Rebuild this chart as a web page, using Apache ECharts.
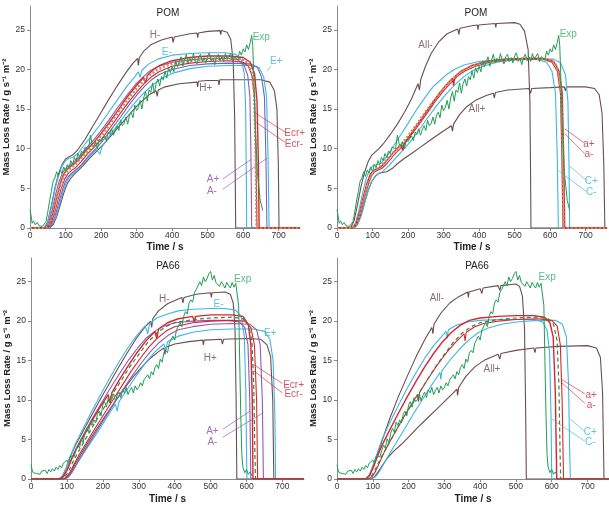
<!DOCTYPE html>
<html>
<head>
<meta charset="utf-8">
<script src="https://cdn.jsdelivr.net/npm/echarts@6/dist/echarts.min.js"></script>
<style>
  html, body { margin: 0; padding: 0; background: #fff; }
  #chart { width: 609px; height: 505px; }
</style>
</head>
<body>
<div id="chart"></div>
<script>
// axes
const X_MAX = 760
const Y_MAX = 28
const xTicks = [0, 100, 200, 300, 400, 500, 600, 700]
const yTicks = [0, 5, 10, 15, 20, 25]
const panelTitles = ['POM', 'POM', 'PA66', 'PA66']

// experiment, POM
const expPOM = [[0,2.3],[3,1.6],[6,0.6],[10,0.9],[15,0.4],[20,0.7],[25,0.3],[30,0.5],[35,0.2],[40,0.4],[45,0.8],[50,2.0],[55,3.4],[60,4.6],[65,5.9],[70,6.3],[75,7.1],[80,6.5],[85,7.3],[90,6.9],[95,7.7],[100,7.1],[105,8.0],[110,7.6],[115,8.5],[120,8.0],[125,8.9],[130,8.5],[135,9.4],[140,8.9],[145,9.7],[150,9.4],[155,10.2],[160,10.4],[165,10.0],[170,11.7],[175,10.6],[180,10.3],[185,10.9],[190,10.0],[195,11.2],[200,10.9],[205,11.3],[210,11.6],[215,11.0],[220,12.1],[225,11.8],[230,12.5],[235,11.7],[240,12.4],[245,12.9],[250,12.3],[255,13.6],[260,12.9],[265,13.2],[270,14.0],[275,13.1],[280,14.2],[285,14.6],[290,13.9],[295,15.5],[300,14.8],[305,15.2],[310,16.1],[315,15.0],[320,16.4],[325,17.2],[330,16.0],[335,17.4],[340,17.1],[345,18.3],[350,17.0],[355,18.2],[360,18.8],[365,17.9],[370,19.1],[375,18.7],[380,19.8],[385,18.9],[390,20.2],[395,19.6],[400,20.4],[405,19.7],[410,21.1],[415,20.3],[420,20.9],[425,21.6],[430,20.4],[435,21.2],[440,21.9],[445,20.8],[450,21.4],[455,21.0],[460,22.0],[465,21.2],[470,20.7],[475,21.6],[480,21.9],[485,21.0],[490,21.5],[495,20.8],[500,21.7],[505,22.1],[510,21.0],[515,21.4],[520,20.6],[525,21.5],[530,21.9],[535,21.1],[540,21.6],[545,21.0],[550,22.0],[555,21.3],[560,21.5],[565,22.0],[570,21.0],[575,21.6],[580,21.8],[585,21.2],[590,22.3],[595,21.8],[600,22.6],[605,22.2],[610,23.1],[615,22.5],[620,23.4],[624,24.3],[627,23.0],[630,19.0],[634,13.0],[640,7.0],[648,3.5],[655,2.2]]

// experiment, PA66
const expPA66 = [[0,1.8],[3,1.2],[6,0.8],[10,1.0],[15,0.7],[20,0.9],[25,0.6],[30,1.0],[35,0.8],[40,1.1],[45,0.7],[50,1.2],[55,0.9],[60,1.3],[65,1.0],[70,1.5],[75,1.2],[80,1.7],[85,1.4],[90,2.0],[95,1.8],[100,2.4],[105,2.0],[110,2.9],[115,3.1],[120,2.8],[125,3.6],[130,4.3],[135,3.9],[140,5.1],[145,4.6],[150,5.8],[155,6.4],[160,5.9],[165,7.2],[170,6.8],[175,7.5],[180,7.1],[185,8.2],[190,8.6],[195,8.0],[200,9.4],[205,9.8],[210,9.1],[215,10.3],[220,9.8],[225,10.1],[230,10.8],[235,9.9],[240,10.6],[245,11.0],[250,10.3],[255,11.3],[260,10.9],[265,11.6],[270,10.7],[275,11.2],[280,11.6],[285,10.9],[290,11.8],[295,11.3],[300,11.6],[305,12.2],[310,11.8],[315,12.6],[320,12.4],[325,13.2],[330,12.7],[335,13.6],[340,13.2],[345,14.1],[350,14.5],[355,14.0],[360,15.2],[365,14.8],[370,16.0],[375,16.3],[380,16.0],[385,17.2],[390,17.0],[395,18.1],[400,17.6],[405,18.9],[410,18.7],[415,19.8],[420,19.3],[425,20.6],[430,21.2],[435,20.9],[440,22.3],[445,22.7],[450,22.4],[455,23.6],[460,24.0],[465,23.8],[470,25.0],[475,24.5],[480,25.6],[485,25.0],[490,25.4],[495,26.0],[500,26.3],[505,25.2],[510,25.8],[515,24.9],[520,25.1],[525,24.4],[530,25.0],[535,24.6],[540,24.2],[545,24.9],[550,24.5],[555,24.2],[560,24.9],[565,24.3],[570,24.8],[575,24.6],[578,22.0],[581,15.0],[584,8.0],[587,3.0],[590,1.5],[595,0.8],[600,1.2],[605,0.6],[610,0.9],[615,0.4]]

// reference simulations
const basePOM = [[0,0],[45,0],[55,0.5],[65,1.8],[75,3.6],[85,5.3],[95,6.5],[105,7.2],[115,7.6],[125,7.9],[140,8.6],[160,9.6],[180,10.5],[200,11.6],[225,13.1],[250,14.7],[275,16.2],[300,17.6],[320,18.6],[340,19.4],[360,20.0],[380,20.4],[400,20.7],[450,21.1],[500,21.3],[560,21.4],[600,21.2],[615,20.7],[625,19.5],[631,17],[635,10],[637,3],[638,0],[760,0]]
const basePA66 = [[0,0],[85,0],[95,0.3],[105,1.0],[115,2.0],[130,3.3],[150,4.9],[175,6.9],[200,8.8],[225,10.6],[250,12.4],[275,14.2],[300,15.8],[325,17.3],[350,18.5],[375,19.3],[400,19.8],[450,20.2],[500,20.4],[560,20.5],[590,20.3],[605,19.6],[615,17.5],[620,12],[623,4],[625,0],[760,0]]

// POM, single parameters
const pomHminus = [[0,0],[40,0],[50,0.8],[60,2.8],[70,5.0],[80,6.8],[90,8.0],[100,8.7],[110,9.0],[120,9.2],[135,9.9],[155,11.2],[175,12.7],[195,14.2],[220,16.1],[245,17.9],[270,19.6],[290,20.8],[303,21.4],[305,20.5],[308,21.5],[320,22.3],[340,23.1],[370,23.7],[400,24.1],[403,23.4],[406,24.1],[450,24.5],[470,24.6],[472,24.0],[474,24.6],[500,24.8],[535,24.9],[537,24.4],[539,24.9],[555,24.7],[565,23.8],[572,21],[576,14],[578,5],[579,0],[760,0]]
const pomHplus = [[0,0],[55,0],[65,0.4],[75,1.4],[85,2.9],[95,4.4],[105,5.6],[115,6.3],[125,6.8],[135,7.2],[150,7.9],[170,8.9],[190,9.8],[210,10.7],[235,12.0],[260,13.3],[285,14.6],[310,15.8],[335,16.8],[355,17.3],[358,16.6],[361,17.4],[380,17.8],[420,18.2],[470,18.4],[472,17.8],[474,18.5],[500,18.6],[530,18.6],[532,18.0],[534,18.7],[600,18.7],[650,18.7],[675,18.4],[688,17.3],[695,15],[699,8],[701,0],[760,0]]
const pomEminus = [[0,0],[40,0],[50,0.7],[60,2.6],[70,4.8],[80,6.6],[90,7.8],[100,8.5],[110,8.8],[120,8.9],[135,9.4],[155,10.6],[175,11.7],[195,12.9],[220,14.5],[245,16.1],[270,17.7],[295,19.1],[305,19.7],[310,19.0],[315,19.9],[335,20.7],[360,21.3],[400,21.8],[450,22.0],[500,22.1],[550,22.1],[580,21.9],[595,21.2],[603,19.5],[607,15],[609,6],[610,0],[760,0]]
const pomEplus = [[0,0],[52,0],[62,0.4],[72,1.3],[82,2.8],[92,4.4],[102,5.7],[112,6.5],[122,6.9],[132,7.3],[147,8.0],[167,9.0],[187,9.9],[197,9.3],[202,10.2],[222,11.5],[247,13.0],[272,14.5],[297,15.9],[322,17.1],[347,18.1],[372,18.9],[400,19.5],[450,20.1],[500,20.4],[560,20.5],[620,20.5],[645,20.2],[658,19.0],[666,16.5],[670,9],[673,0],[760,0]]
const pomEcrPlus = [[0,0],[45,0],[55,0.5],[65,2.0],[75,3.9],[85,5.6],[95,6.8],[105,7.4],[115,7.8],[125,8.1],[140,8.8],[160,9.9],[180,10.8],[200,11.9],[225,13.4],[250,15.0],[275,16.6],[300,18.0],[320,19.0],[325,18.3],[330,19.2],[345,19.9],[365,20.5],[400,21.1],[450,21.5],[500,21.7],[560,21.7],[600,21.5],[620,20.9],[632,19.5],[639,16],[643,8],[645,0],[760,0]]
const pomEcrMinus = [[0,0],[48,0],[58,0.5],[68,1.7],[78,3.4],[88,5.0],[98,6.2],[108,6.9],[118,7.3],[128,7.6],[143,8.3],[163,9.4],[183,10.3],[203,11.3],[228,12.8],[253,14.4],[278,15.9],[303,17.3],[323,18.3],[343,19.1],[363,19.7],[400,20.4],[450,20.8],[500,21.0],[560,21.1],[600,20.9],[615,20.4],[625,19.2],[632,16.5],[636,9],[639,0],[760,0]]
const pomAplus = [[0,0],[42,0],[52,0.6],[62,2.2],[72,4.2],[82,5.9],[92,7.0],[102,7.6],[112,7.9],[122,8.2],[137,8.9],[157,10.0],[177,11.0],[197,12.1],[222,13.6],[247,15.2],[272,16.7],[297,18.1],[317,19.0],[337,19.8],[357,20.3],[400,20.9],[450,21.2],[500,21.4],[550,21.4],[585,21.2],[602,20.6],[613,19.2],[619,16.5],[622,9],[624,0],[760,0]]
const pomAminus = [[0,0],[50,0],[60,0.4],[70,1.4],[80,3.0],[90,4.6],[100,5.9],[110,6.6],[120,7.0],[130,7.4],[145,8.0],[165,9.1],[185,10.0],[205,11.0],[230,12.5],[255,14.0],[280,15.6],[305,17.0],[325,18.0],[345,18.8],[365,19.4],[400,20.0],[450,20.5],[500,20.7],[560,20.8],[620,20.7],[640,20.3],[652,19.0],[660,16.5],[664,9],[667,0],[760,0]]

// POM, all / a / C
const pomAllMinus = [[0,0],[38,0],[48,0.9],[58,3.0],[68,5.3],[78,7.1],[88,8.4],[98,9.2],[108,9.6],[118,10.0],[130,10.6],[150,11.8],[170,13.1],[190,14.6],[210,16.3],[228,18.2],[232,17.4],[236,18.8],[250,20.5],[265,22.0],[285,23.4],[310,24.5],[340,25.1],[343,24.4],[346,25.2],[380,25.5],[395,25.6],[397,25.0],[399,25.6],[445,25.8],[447,25.3],[449,25.8],[500,25.9],[515,25.7],[528,24.8],[538,22.5],[543,16],[545,6],[546,0],[760,0]]
const pomAllPlus = [[0,0],[48,0],[58,0.5],[68,1.7],[78,3.3],[88,4.8],[98,5.9],[108,6.5],[118,6.9],[128,7.0],[140,7.1],[155,7.5],[170,8.1],[190,8.8],[210,9.4],[235,10.2],[260,11.0],[285,11.8],[305,12.4],[322,12.9],[325,12.2],[328,13.1],[345,14.3],[365,15.3],[390,16.1],[420,16.7],[440,17.0],[443,16.4],[446,17.1],[480,17.4],[540,17.6],[545,17.0],[548,17.6],[600,17.7],[640,17.8],[643,17.3],[646,17.8],[700,17.8],[725,17.6],[738,16.8],[746,14.5],[751,8],[754,0],[760,0]]
const pomAPlus2 = [[0,0],[44,0],[54,0.6],[64,2.0],[74,3.9],[84,5.6],[94,6.8],[104,7.3],[114,7.5],[124,7.7],[140,8.5],[160,9.6],[180,10.5],[185,9.8],[190,10.7],[210,12.0],[235,13.6],[260,15.2],[285,16.8],[305,17.9],[325,18.9],[328,18.0],[332,19.1],[350,19.8],[380,20.5],[420,21.0],[470,21.3],[520,21.4],[580,21.4],[610,21.0],[625,19.8],[634,17],[638,9],[641,0],[760,0]]
const pomAMinus2 = [[0,0],[46,0],[56,0.5],[66,1.8],[76,3.6],[86,5.2],[96,6.5],[106,7.1],[116,7.3],[126,7.5],[142,8.2],[162,9.3],[182,10.2],[202,11.3],[227,12.8],[252,14.4],[277,16.0],[300,17.3],[320,18.3],[340,19.2],[360,19.8],[390,20.4],[430,20.9],[480,21.2],[530,21.3],[580,21.3],[605,20.9],[620,19.8],[629,17],[633,9],[636,0],[760,0]]
const pomCminus = [[0,0],[42,0],[52,0.6],[62,2.3],[72,4.4],[82,6.2],[92,7.4],[102,7.9],[112,8.0],[122,8.1],[140,9.0],[160,10.4],[180,11.8],[200,13.2],[225,15.0],[250,16.6],[270,17.8],[290,18.6],[310,19.4],[330,20.0],[360,20.6],[400,21.0],[450,21.2],[500,21.3],[560,21.3],[590,20.9],[605,19.8],[615,17],[620,9],[623,0],[760,0]]
const pomCplus = [[0,0],[48,0],[58,0.4],[68,1.5],[78,3.1],[88,4.7],[98,5.9],[108,6.6],[118,6.9],[128,7.1],[145,7.8],[165,8.8],[185,9.8],[205,10.8],[230,12.3],[255,13.9],[280,15.4],[305,16.8],[330,18.0],[355,19.0],[380,19.8],[410,20.4],[450,20.9],[500,21.2],[560,21.3],[610,21.3],[630,20.8],[643,19.3],[650,16],[653,8],[655,0],[760,0]]

// PA66, single parameters
const paHminus = [[0,0],[78,0],[88,0.4],[98,1.4],[108,2.7],[123,4.2],[143,5.9],[168,8.0],[193,10.1],[218,12.1],[243,14.1],[268,16.0],[293,17.8],[318,19.3],[333,20.0],[336,19.2],[339,20.3],[355,21.3],[380,22.2],[410,22.8],[420,23.0],[423,22.3],[426,23.0],[460,23.4],[500,23.6],[502,23.0],[504,23.6],[540,23.7],[555,23.4],[563,22.3],[568,19],[571,10],[573,0],[760,0]]
const paHplus = [[0,0],[92,0],[102,0.3],[112,0.9],[122,1.8],[137,3.0],[157,4.5],[182,6.3],[207,8.0],[232,9.7],[257,11.3],[282,12.8],[307,14.1],[332,15.3],[357,16.2],[370,16.6],[373,15.8],[376,16.7],[400,17.1],[440,17.4],[478,17.6],[480,17.0],[482,17.6],[530,17.7],[533,17.1],[536,17.7],[600,17.8],[640,17.7],[657,17.0],[667,15.5],[673,10],[676,0],[760,0]]
const paEminus = [[0,0],[78,0],[88,0.4],[98,1.4],[108,2.7],[123,4.4],[143,6.2],[168,8.5],[193,10.6],[218,12.7],[243,14.7],[268,16.5],[293,18.1],[318,19.4],[325,18.4],[330,19.7],[350,20.4],[380,20.9],[410,21.3],[450,21.5],[500,21.6],[540,21.6],[570,21.4],[585,20.6],[594,18],[598,11],[601,0],[760,0]]
const paEplus = [[0,0],[95,0],[105,0.3],[115,0.9],[125,1.7],[140,2.8],[160,4.2],[185,5.9],[210,7.7],[235,9.5],[240,8.6],[245,9.8],[270,11.5],[295,13.2],[320,14.8],[345,16.1],[370,17.1],[375,16.3],[380,17.4],[410,18.1],[450,18.6],[500,18.9],[560,19.0],[620,19.0],[650,18.7],[665,17.7],[674,15],[679,8],[681,0],[760,0]]
const paEcrPlus = [[0,0],[80,0],[90,0.3],[100,1.1],[110,2.2],[125,3.7],[145,5.3],[170,7.4],[195,9.3],[215,10.7],[220,9.6],[225,10.9],[245,12.5],[270,14.3],[295,16.0],[320,17.5],[345,18.7],[350,17.8],[355,19.0],[380,19.8],[410,20.3],[450,20.6],[455,19.9],[458,20.6],[500,20.8],[560,20.8],[590,20.6],[605,19.6],[612,17],[616,10],[618,0],[760,0]]
const paEcrMinus = [[0,0],[88,0],[98,0.2],[108,0.8],[118,1.7],[133,3.0],[153,4.5],[178,6.4],[203,8.2],[228,10.0],[253,11.8],[278,13.6],[303,15.2],[328,16.7],[353,17.9],[378,18.8],[400,19.3],[450,19.8],[500,20.0],[560,20.1],[595,20.0],[612,19.2],[622,17],[628,10],[631,0],[760,0]]
const paAplus = [[0,0],[82,0],[92,0.4],[102,1.3],[112,2.5],[127,4.0],[147,5.7],[172,7.8],[197,9.7],[222,11.6],[247,13.4],[272,15.1],[297,16.6],[322,17.9],[347,18.8],[372,19.4],[400,19.8],[450,20.0],[500,20.1],[550,20.1],[580,19.9],[595,19.2],[604,17],[609,10],[612,0],[760,0]]
const paAminus = [[0,0],[92,0],[102,0.2],[112,0.7],[122,1.5],[137,2.7],[157,4.2],[182,6.0],[207,7.8],[232,9.6],[257,11.4],[282,13.1],[307,14.7],[332,16.1],[357,17.3],[382,18.2],[410,18.9],[450,19.3],[500,19.6],[560,19.7],[610,19.6],[628,18.9],[638,17],[644,10],[647,0],[760,0]]

// PA66, all / a / C
const paAllMinus = [[0,0],[82,0],[92,0.5],[102,1.6],[112,3.0],[127,5.0],[147,7.6],[172,10.5],[197,13.1],[222,15.6],[247,17.8],[265,19.2],[268,18.4],[271,19.6],[290,21.0],[315,22.3],[340,23.1],[365,23.7],[367,23.0],[369,23.7],[400,24.1],[405,23.5],[408,24.2],[450,24.5],[455,23.9],[458,24.5],[500,24.7],[510,24.4],[518,23.2],[524,19],[527,9],[529,0],[760,0]]
const paAllPlus = [[0,0],[95,0],[105,0.3],[115,0.9],[125,1.6],[140,2.6],[160,3.6],[180,4.4],[200,5.3],[225,6.5],[250,7.6],[275,8.7],[300,9.8],[325,10.9],[335,11.4],[337,10.6],[340,11.6],[360,13.0],[385,14.2],[410,15.0],[450,15.8],[455,15.2],[458,15.9],[500,16.3],[550,16.6],[553,16.0],[556,16.6],[620,16.8],[700,16.9],[725,16.6],[736,15.4],[742,11],[745,3],[746,0],[760,0]]
const paAPlus2 = [[0,0],[80,0],[90,0.4],[100,1.3],[110,2.5],[125,4.2],[145,6.0],[170,8.2],[195,10.3],[220,12.3],[245,14.2],[270,15.9],[295,17.4],[320,18.6],[345,19.5],[370,20.1],[400,20.4],[450,20.6],[500,20.7],[550,20.7],[580,20.5],[595,19.8],[604,18],[610,11],[614,0],[760,0]]
const paAMinus2 = [[0,0],[88,0],[98,0.3],[108,1.0],[118,2.0],[133,3.5],[153,5.2],[178,7.2],[203,9.1],[225,10.7],[228,9.8],[231,11.0],[256,12.8],[281,14.5],[306,16.0],[331,17.3],[355,18.4],[358,17.5],[361,18.6],[385,19.3],[410,19.7],[450,20.0],[500,20.2],[560,20.3],[600,20.1],[615,19.4],[624,17],[629,10],[633,0],[760,0]]
const paCminus = [[0,0],[80,0],[90,0.5],[100,1.7],[110,3.0],[125,4.9],[145,6.9],[170,9.2],[195,11.4],[220,13.4],[245,15.3],[270,16.9],[295,18.2],[305,18.7],[308,17.8],[311,18.9],[335,19.5],[365,19.9],[400,20.1],[450,20.2],[500,20.2],[550,20.2],[575,19.9],[587,18.8],[594,16],[598,8],[600,0],[760,0]]
const paCplus = [[0,0],[98,0],[108,0.3],[118,0.9],[128,1.7],[143,2.9],[163,4.4],[188,6.3],[213,8.2],[238,10.0],[263,11.8],[288,13.5],[290,12.6],[293,13.7],[318,15.2],[343,16.5],[368,17.6],[393,18.5],[420,19.1],[460,19.6],[500,19.9],[560,20.1],[610,20.1],[630,19.6],[641,18],[647,12],[650,4],[652,0],[760,0]]

// curve labels [text, time, rate]
const labels1 = [['H-',352,24.3],['E-',385,22.2],['Exp',651,24.1],['E+',693,21.0],['H+',495,17.6],['Ecr+',745,12.0],['Ecr-',743,10.6],['A+',515,6.1],['A-',512,4.6]]
const labels2 = [['All-',249,23.1],['All+',394,15.0],['Exp',651,24.4],['a+',709,10.6],['a-',709,9.3],['C+',716,5.9],['C-',716,4.5]]
const labels3 = [['H-',371,22.8],['E-',522,22.2],['Exp',589,25.3],['E+',666,18.5],['H+',499,15.3],['Ecr+',731,11.9],['Ecr-',731,10.7],['A+',505,6.1],['A-',505,4.6]]
const labels4 = [['All-',279,22.9],['All+',433,13.9],['Exp',587,25.6],['a+',710,10.6],['a-',710,9.4],['C+',708,5.9],['C-',708,4.7]]
// leader lines [label, t1, v1, t2, v2]
const leaders1 = [['Ecr+',634,14.5,718,12.1],['Ecr-',634,13.4,718,10.8],['A+',543,6.2,624,8.7],['A-',543,4.9,667,8.8],['E+',678,20.4,668,19.8]]
const leaders2 = [['a+',641,12.5,697,10.7],['a-',641,11.9,697,9.4],['C+',655,7.8,702,6.0],['C-',624,7.2,702,4.6]]
const leaders3 = [['Ecr+',620,14.5,700,12.1],['Ecr-',620,13.7,700,10.9],['A+',534,6.3,610,8.6],['A-',534,5.3,647,8.4]]
const leaders4 = [['a+',628,12.6,692,10.8],['a-',628,12.2,692,9.6],['C+',652,7.6,692,6.0],['C-',600,7.6,692,4.8]]

const C = {
  brown: '#6c4d4f',
  cyan: '#3fb6df',
  red: '#d6262c',
  purple: '#9657b3',
  violet: '#6f63c7',
  green: '#1f9d55',
  basePOM: '#c18e63',
  basePA: '#3e8046',
}
const FONT = "'Liberation Sans', Arial, sans-serif"

function labelColor(s) {
  if (s === 'Exp') return '#2faa63'
  if (s.indexOf('Ecr') === 0 || s[0] === 'a') return '#cc2a36'
  if (s.indexOf('All') === 0 || s[0] === 'H') return '#6e4a52'
  if (s[0] === 'A') return '#8a4fae'
  return '#3ab2db'
}

function curve(data, p, color, width, type, z) {
  return {
    type: 'line',
    xAxisIndex: p,
    yAxisIndex: p,
    data: data,
    symbol: 'none',
    silent: true,
    z: z || 2,
    lineStyle: { color: color, width: width || 1.1, type: type || 'solid' },
  }
}

function labelSeries(list, leaders, p) {
  return {
    type: 'scatter',
    xAxisIndex: p,
    yAxisIndex: p,
    symbolSize: 0,
    silent: true,
    z: 10,
    data: list.map((l) => ({
      value: [l[1], l[2]],
      label: { formatter: l[0], color: labelColor(l[0]) },
    })),
    label: { show: true, position: 'inside', fontSize: 10, fontFamily: FONT },
    markLine: {
      silent: true,
      symbol: ['none', 'none'],
      label: { show: false },
      animation: false,
      data: leaders.map((d) => [
        { coord: [d[1], d[2]], lineStyle: { color: labelColor(d[0]), width: 0.8, type: 'solid', opacity: 0.8 } },
        { coord: [d[3], d[4]] },
      ]),
    },
  }
}

const grids = [
  { left: 30, top: 6, width: 270, height: 222 },
  { left: 337, top: 6, width: 270, height: 222 },
  { left: 31, top: 258, width: 273, height: 222 },
  { left: 337, top: 258, width: 272, height: 222 },
]

const xAxes = grids.map((g, i) => ({
  type: 'value',
  gridIndex: i,
  min: 0,
  max: X_MAX,
  name: 'Time / s',
  nameLocation: 'middle',
  nameGap: i < 2 ? 14 : 15,
  nameTextStyle: { fontWeight: 'bold', fontSize: 10, color: '#222', fontFamily: FONT },
  axisLine: { lineStyle: { color: '#8a8a8a' } },
  axisTick: { customValues: xTicks, length: 3, lineStyle: { color: '#8a8a8a' } },
  axisLabel: { customValues: xTicks, fontSize: 8.5, color: '#333', margin: 3, fontFamily: FONT },
  splitLine: { show: false },
}))

const yAxes = grids.map((g, i) => ({
  type: 'value',
  gridIndex: i,
  min: 0,
  max: Y_MAX,
  name: 'Mass Loss Rate / g s\u207B\u00B9 m\u207B\u00B2',
  nameLocation: 'middle',
  nameGap: 18,
  nameTextStyle: { fontWeight: 'bold', fontSize: 9.5, color: '#222', fontFamily: FONT },
  axisLine: { show: true, lineStyle: { color: '#8a8a8a' } },
  axisTick: { show: true, customValues: yTicks, length: 3, lineStyle: { color: '#8a8a8a' } },
  axisLabel: { customValues: yTicks, fontSize: 8.5, color: '#333', margin: 5, fontFamily: FONT },
  splitLine: { show: false },
}))

const titles = [
  { text: panelTitles[0], left: 163, top: 3 },
  { text: panelTitles[1], left: 471, top: 3 },
  { text: panelTitles[2], left: 163, top: 256 },
  { text: panelTitles[3], left: 472, top: 256 },
].map((t) => Object.assign(t, {
  textAlign: 'center',
  textStyle: { fontSize: 10, fontWeight: 'normal', color: '#222', fontFamily: FONT },
}))

const series = [
  // POM left
  curve(pomHminus, 0, C.brown), curve(pomHplus, 0, C.brown),
  curve(pomEminus, 0, C.cyan), curve(pomEplus, 0, C.cyan),
  curve(pomAplus, 0, C.purple), curve(pomAminus, 0, C.violet),
  curve(pomEcrMinus, 0, C.red), curve(pomEcrPlus, 0, C.red, 1.4),
  curve(basePOM, 0, C.basePOM, 2.5, [2, 2], 3),
  curve(expPOM, 0, C.green, 1, 'solid', 4),
  labelSeries(labels1, leaders1, 0),
  // POM right
  curve(pomAllMinus, 1, C.brown), curve(pomAllPlus, 1, C.brown),
  curve(pomCminus, 1, C.cyan), curve(pomCplus, 1, C.cyan),
  curve(pomAMinus2, 1, C.red), curve(pomAPlus2, 1, C.red, 1.4),
  curve(basePOM, 1, C.basePOM, 2.5, [2, 2], 3),
  curve(expPOM, 1, C.green, 1, 'solid', 4),
  labelSeries(labels2, leaders2, 1),
  // PA66 left
  curve(paHminus, 2, C.brown), curve(paHplus, 2, C.brown),
  curve(paEminus, 2, C.cyan), curve(paEplus, 2, C.cyan),
  curve(paAplus, 2, C.purple), curve(paAminus, 2, C.purple),
  curve(paEcrMinus, 2, C.red), curve(paEcrPlus, 2, C.red, 1.4),
  curve(basePA66, 2, C.basePA, 1.2, [4, 3], 3),
  curve(expPA66, 2, C.green, 1, 'solid', 4),
  labelSeries(labels3, leaders3, 2),
  // PA66 right
  curve(paAllMinus, 3, C.brown), curve(paAllPlus, 3, C.brown),
  curve(paCminus, 3, C.cyan), curve(paCplus, 3, C.cyan),
  curve(paAMinus2, 3, C.red), curve(paAPlus2, 3, C.red, 1.4),
  curve(basePA66, 3, C.basePA, 1.2, [4, 3], 3),
  curve(expPA66, 3, C.green, 1, 'solid', 4),
  labelSeries(labels4, leaders4, 3),
]

const chart = echarts.init(document.getElementById('chart'), null, { renderer: 'canvas' })
chart.setOption({
  animation: false,
  backgroundColor: '#fff',
  title: titles,
  grid: grids,
  xAxis: xAxes,
  yAxis: yAxes,
  series: series,
})
</script>
</body>
</html>
